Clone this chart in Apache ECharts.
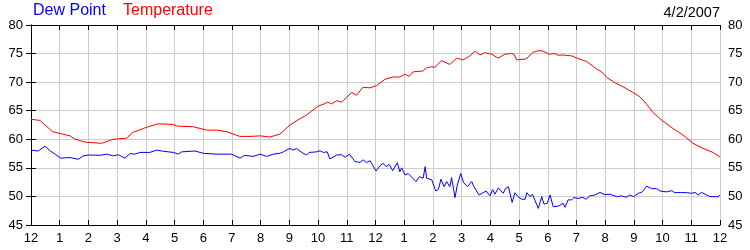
<!DOCTYPE html>
<html><head><meta charset="utf-8">
<script src="https://cdn.jsdelivr.net/npm/echarts@6/dist/echarts.min.js"></script>
<style>html,body{margin:0;padding:0;background:#fff}#c{width:750px;height:250px}</style>
</head><body><div id="c"></div>
<script>
// Hours since midnight (0..24) and readings
var tempHours = [0.00,0.31,0.55,0.77,1.11,1.36,1.53,1.88,2.46,2.86,3.33,3.55,3.97,4.42,4.95,5.09,5.64,6.13,6.48,6.83,7.28,7.63,7.98,8.32,8.67,9.02,9.30,9.60,10.00,10.17,10.34,10.47,10.65,10.82,11.17,11.34,11.56,11.81,12.04,12.33,12.61,12.85,13.03,13.17,13.31,13.65,13.78,13.96,14.07,14.30,14.59,14.83,15.05,15.29,15.47,15.64,15.81,16.05,16.27,16.51,16.74,16.82,16.92,17.24,17.49,17.66,17.83,18.04,18.25,18.36,18.53,18.83,19.02,19.36,19.70,19.88,20.05,20.34,20.62,20.97,21.21,21.45,21.67,22.01,22.36,22.71,23.06,23.41,23.76,24.00];
var tempValues = [63.5,63.3,62.2,61.3,60.9,60.6,60.05,59.5,59.3,60.0,60.2,61.2,62.0,62.7,62.6,62.3,62.2,61.6,61.6,61.3,60.5,60.5,60.6,60.4,60.9,62.5,63.4,64.25,65.8,66.1,66.5,66.2,66.75,66.5,68.2,67.7,69.1,69.0,69.4,70.5,70.9,70.9,71.4,71.0,71.8,71.95,72.5,72.7,72.6,73.75,73.1,74.2,73.9,74.6,75.45,74.75,75.15,74.9,74.2,74.9,75.0,74.9,73.9,74.05,75.2,75.5,75.45,74.9,75.0,74.7,74.75,74.6,74.2,73.6,72.3,71.8,70.85,69.9,69.2,68.2,67.45,66.1,64.65,63.2,61.9,60.75,59.3,58.4,57.7,56.9];

var dewHours = [0.00,0.25,0.49,0.66,0.84,1.03,1.36,1.65,1.82,2.00,2.40,2.64,2.87,3.04,3.27,3.45,3.62,3.80,4.14,4.38,4.61,4.96,5.13,5.25,5.71,6.00,6.47,6.99,7.28,7.45,7.74,7.98,8.21,8.44,8.67,8.79,9.02,9.14,9.25,9.43,9.60,9.69,9.95,10.07,10.18,10.32,10.41,10.65,10.82,10.94,11.09,11.29,11.46,11.57,11.69,11.81,12.02,12.16,12.27,12.37,12.48,12.60,12.76,12.85,12.91,13.03,13.14,13.20,13.41,13.53,13.66,13.73,13.78,13.96,14.10,14.19,14.28,14.39,14.48,14.59,14.65,14.77,14.85,14.97,15.06,15.20,15.35,15.43,15.61,15.85,15.99,16.08,16.16,16.28,16.34,16.45,16.53,16.63,16.76,16.86,16.97,17.09,17.21,17.27,17.38,17.47,17.67,17.79,17.87,17.98,18.08,18.19,18.37,18.54,18.60,18.71,18.83,18.91,19.06,19.22,19.33,19.47,19.64,19.82,19.99,20.17,20.40,20.57,20.75,20.86,20.98,21.15,21.27,21.45,21.62,21.79,21.91,22.14,22.32,22.43,22.66,22.84,23.01,23.13,23.24,23.36,23.54,23.65,23.94,24.00];
var dewValues = [58.1,57.95,58.8,58.0,57.4,56.7,56.8,56.5,57.1,57.25,57.2,57.4,57.1,57.3,56.7,57.5,57.4,57.7,57.7,58.1,57.9,57.7,57.4,57.8,57.95,57.55,57.4,57.4,56.7,57.2,57.0,57.4,57.0,57.4,57.55,57.8,58.4,58.1,58.4,57.7,57.25,57.7,57.8,58.0,57.7,57.8,56.55,57.25,57.3,56.85,57.4,56.1,55.95,56.4,55.9,56.25,54.45,55.4,55.8,55.2,55.6,54.5,55.9,54.3,55.0,53.75,54.0,53.75,52.6,53.45,53.2,55.2,53.2,52.9,50.95,51.2,53.0,51.7,52.6,51.7,53.3,49.8,52.0,54.0,52.5,51.7,52.6,51.7,50.25,50.95,50.1,51.2,50.4,51.5,51.7,50.55,51.4,51.7,48.95,50.65,49.95,49.5,49.5,50.65,50.0,50.35,47.9,49.95,48.65,48.8,50.25,48.2,48.3,48.8,48.1,49.4,49.4,49.8,49.65,49.85,49.5,50.1,50.25,50.7,50.3,50.4,49.95,50.1,49.85,50.25,49.95,50.55,50.7,51.8,51.35,51.4,50.95,50.8,51.0,50.65,50.7,50.65,50.55,50.7,50.25,50.7,50.25,49.95,49.95,50.25];

var hourLabels = ['12','1','2','3','4','5','6','7','8','9','10','11','12','1','2','3','4','5','6','7','8','9','10','11','12'];
var seriesNames = ['Dew Point','Temperature'];
var dateText = '4/2/2007';

function zip(a,b){var r=[];for(var i=0;i<a.length;i++)r.push([a[i],b[i]]);return r;}

var FONT = 'Liberation Sans, Arial, sans-serif';
var chart = echarts.init(document.getElementById('c'), null, {renderer:'canvas'});
var tickStyle = {show:true, inside:true, length:5, lineStyle:{color:'#000', width:1}};
var lineAxis = {show:true, lineStyle:{color:'#000', width:1}};
chart.setOption({
  animation:false,
  backgroundColor:'#fff',
  title:[
    {text:seriesNames[0], left:33, top:3, padding:0, textStyle:{color:'#0000ff', fontSize:16, fontWeight:'normal', fontFamily:FONT}},
    {text:seriesNames[1], left:123, top:3, padding:0, textStyle:{color:'#ff0000', fontSize:16, fontWeight:'normal', fontFamily:FONT}},
    {text:dateText, right:30, top:5, padding:0, textStyle:{color:'#000', fontSize:14.5, fontWeight:'normal', fontFamily:FONT}}
  ],
  grid:{left:31, right:30, top:25, bottom:25, containLabel:false},
  xAxis:[
    {type:'value', min:0, max:24, interval:1, position:'bottom',
     axisLine:lineAxis, axisTick:tickStyle,
     axisLabel:{color:'#000', fontSize:13, fontFamily:FONT, margin:7, formatter:function(v){return hourLabels[Math.round(v)];}},
     splitLine:{show:true, lineStyle:{color:'#cccccc', width:1}}},
    {type:'value', min:0, max:24, interval:1, position:'top',
     axisLine:lineAxis, axisTick:tickStyle, axisLabel:{show:false}, splitLine:{show:false}}
  ],
  yAxis:[
    {type:'value', min:45, max:80, interval:5, position:'left',
     axisLine:lineAxis, axisTick:tickStyle,
     axisLabel:{color:'#000', fontSize:13, fontFamily:FONT, margin:8},
     splitLine:{show:true, lineStyle:{color:'#cccccc', width:1}}},
    {type:'value', min:45, max:80, interval:5, position:'right',
     axisLine:lineAxis, axisTick:tickStyle,
     axisLabel:{color:'#000', fontSize:13, fontFamily:FONT, margin:8},
     splitLine:{show:false}}
  ],
  series:[
    {name:seriesNames[0], type:'line', xAxisIndex:0, yAxisIndex:0, showSymbol:false, symbol:'none',
     lineStyle:{color:'#0000ff', width:1}, data:zip(dewHours, dewValues)},
    {name:seriesNames[1], type:'line', xAxisIndex:0, yAxisIndex:0, showSymbol:false, symbol:'none',
     lineStyle:{color:'#ff0000', width:1}, data:zip(tempHours, tempValues)}
  ]
});
</script></body></html>
